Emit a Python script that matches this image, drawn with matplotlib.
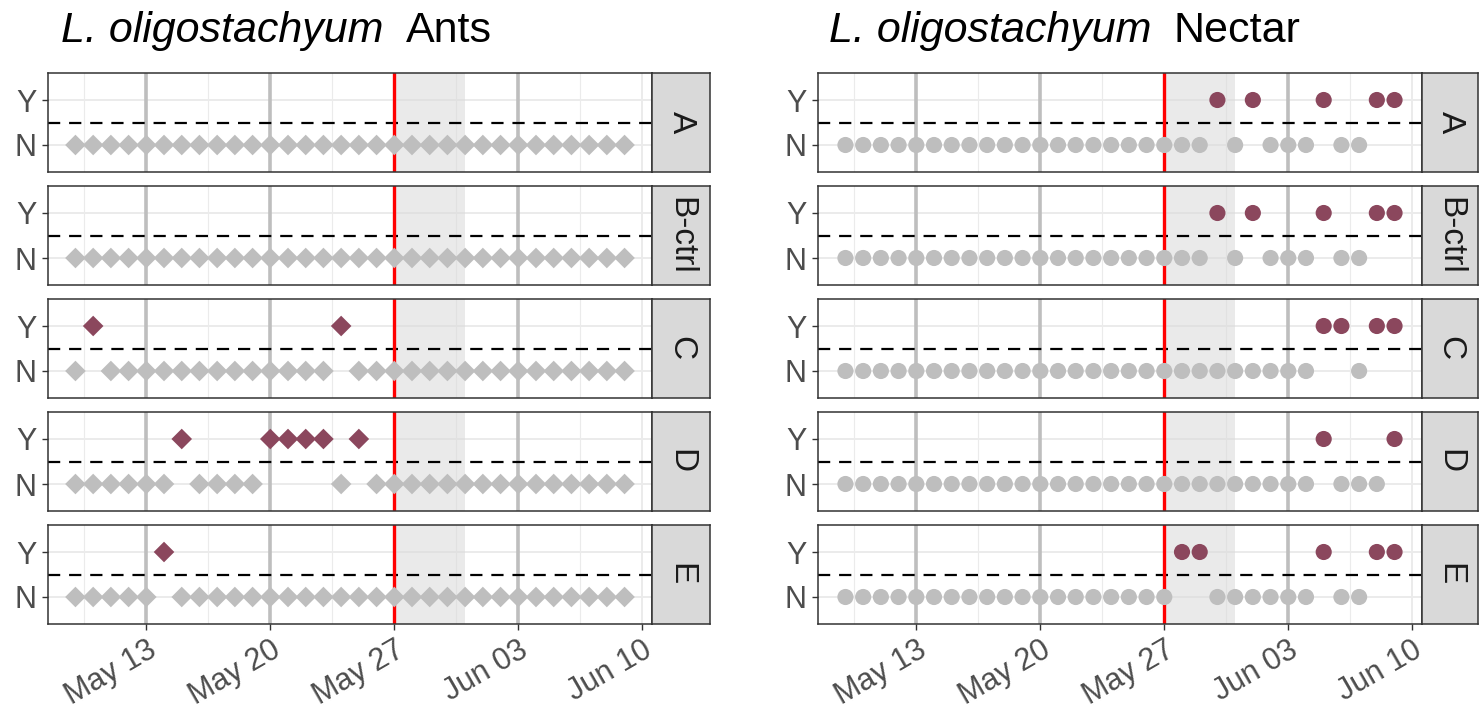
import matplotlib
matplotlib.use('Agg')
import matplotlib.pyplot as plt
import matplotlib.dates as mdates
import pandas as pd

plt.rcParams['font.family'] = ['Liberation Sans', 'DejaVu Sans']

# one observation per day, 9 May - 9 Jun (weeks separated by spaces)
days = pd.date_range('2021-05-09', '2021-06-09', freq='D')
facets = ['A', 'B-ctrl', 'C', 'D', 'E']

ants_A = "NNNNNNN NNNNNNN NNNNNNN NNNNNNN NNNN"
ants_B = "NNNNNNN NNNNNNN NNNNNNN NNNNNNN NNNN"
ants_C = "NYNNNNN NNNNNNN NYNNNNN NNNNNNN NNNN"
ants_D = "NNNNNNY NNNNYYY YNYNNNN NNNNNNN NNNN"
ants_E = "NNNNNYN NNNNNNN NNNNNNN NNNNNNN NNNN"

nectar_A = "NNNNNNN NNNNNNN NNNNNNN YNYNNNY NNYY"
nectar_B = "NNNNNNN NNNNNNN NNNNNNN YNYNNNY NNYY"
nectar_C = "NNNNNNN NNNNNNN NNNNNNN NNNNNNY YNYY"
nectar_D = "NNNNNNN NNNNNNN NNNNNNN NNNNNNY NNNY"
nectar_E = "NNNNNNN NNNNNNN NNNNNYY NNNNNNY NNYY"

ants = [ants_A, ants_B, ants_C, ants_D, ants_E]
nectar = [nectar_A, nectar_B, nectar_C, nectar_D, nectar_E]

week_breaks = pd.to_datetime(['2021-05-13', '2021-05-20', '2021-05-27', '2021-06-03', '2021-06-10'])
grey_lines = pd.to_datetime(['2021-05-13', '2021-05-20', '2021-06-03'])
treatment_day = pd.Timestamp('2021-05-27')
shade_end = pd.Timestamp('2021-05-31')

col_no = '#BEBEBE'
col_yes = '#8B475D'

W, H = 1480, 710
fig = plt.figure(figsize=(W / 100, H / 100), dpi=100)


def box(x0, y0, x1, y1):
    return [x0 / W, 1 - y1 / H, (x1 - x0) / W, (y1 - y0) / H]


row_tops = [73, 186, 299, 412, 525]
row_h = 99

xnum = mdates.date2num(days)
span = xnum[-1] - xnum[0]
xlim = (xnum[0] - 0.05 * span, xnum[-1] + 0.05 * span)
minor = mdates.date2num(week_breaks) - 3.5


def draw_panel(x0, x1, xs1, series, marker, ms, title_x, species, label):
    axes = []
    for i, (name, obs) in enumerate(zip(facets, series)):
        vals = [c for c in obs if c != ' ']
        y = [2 if v == 'Y' else 1 for v in vals]
        cols = [col_yes if v == 'Y' else col_no for v in vals]
        top = row_tops[i]
        ax = fig.add_axes(box(x0, top, x1, top + row_h))
        ax.set_xlim(xlim)
        ax.set_ylim(0.4, 2.6)
        # grid
        for g in mdates.date2num(week_breaks):
            ax.axvline(g, color='#EBEBEB', lw=1.4, zorder=0)
        for g in minor:
            ax.axvline(g, color='#EBEBEB', lw=0.8, zorder=0)
        for g in [1, 2]:
            ax.axhline(g, color='#EBEBEB', lw=1.4, zorder=0)
        ax.axvspan(treatment_day, shade_end, color='#D9D9D9', alpha=0.55, lw=0, zorder=1)
        for g in grey_lines:
            ax.axvline(g, color='#BEBEBE', lw=2.6, zorder=1.5)
        ax.axhline(1.5, color='black', lw=1.6, ls=(0, (5.5, 4)), zorder=2)
        ax.axvline(treatment_day, color='#FF0000', lw=2.4, zorder=2.5)
        ax.scatter(days, y, c=cols, marker=marker, s=ms, lw=0, zorder=3)
        ax.set_yticks([1, 2])
        ax.set_yticklabels(['N', 'Y'])
        ax.set_xticks(mdates.date2num(week_breaks))
        ax.tick_params(axis='y', labelsize=22, labelcolor='#4D4D4D', color='#333333',
                       length=4, width=1, pad=4)
        if i < 4:
            ax.tick_params(axis='x', bottom=False, labelbottom=False)
        else:
            ax.set_xticklabels([d.strftime('%b %d') for d in week_breaks])
            ax.tick_params(axis='x', labelsize=22, labelcolor='#4D4D4D', color='#333333',
                           length=4, width=1, pad=4)
            for t in ax.get_xticklabels():
                t.set_rotation(30)
                t.set_ha('right')
                t.set_va('top')
                t.set_rotation_mode('anchor')
        for s in ax.spines.values():
            s.set_color('#333333')
            s.set_linewidth(1.1)
        # facet strip
        st = fig.add_axes(box(x1, top, xs1, top + row_h))
        st.set_facecolor('#D9D9D9')
        st.set_xticks([])
        st.set_yticks([])
        for s in st.spines.values():
            s.set_color('#333333')
            s.set_linewidth(1.1)
        st.text(0.5, 0.5, name, rotation=-90, ha='center', va='center',
                fontsize=24, color='#1A1A1A', transform=st.transAxes)
        axes.append(ax)
    t1 = fig.text(title_x / W, 1 - 42 / H, species, fontsize=31, style='italic',
                  ha='left', va='baseline')
    axes[0].annotate(label, xy=(1, 0), xycoords=t1, xytext=(16, 0),
                     textcoords='offset points', fontsize=31, ha='left', va='bottom',
                     annotation_clip=False)


draw_panel(48, 652, 710, ants, 'D', 110, 61, 'L. oligostachyum', 'Ants')
draw_panel(818, 1422, 1478, nectar, 'o', 135, 829, 'L. oligostachyum', 'Nectar')

fig.savefig('out.png', dpi=100)
